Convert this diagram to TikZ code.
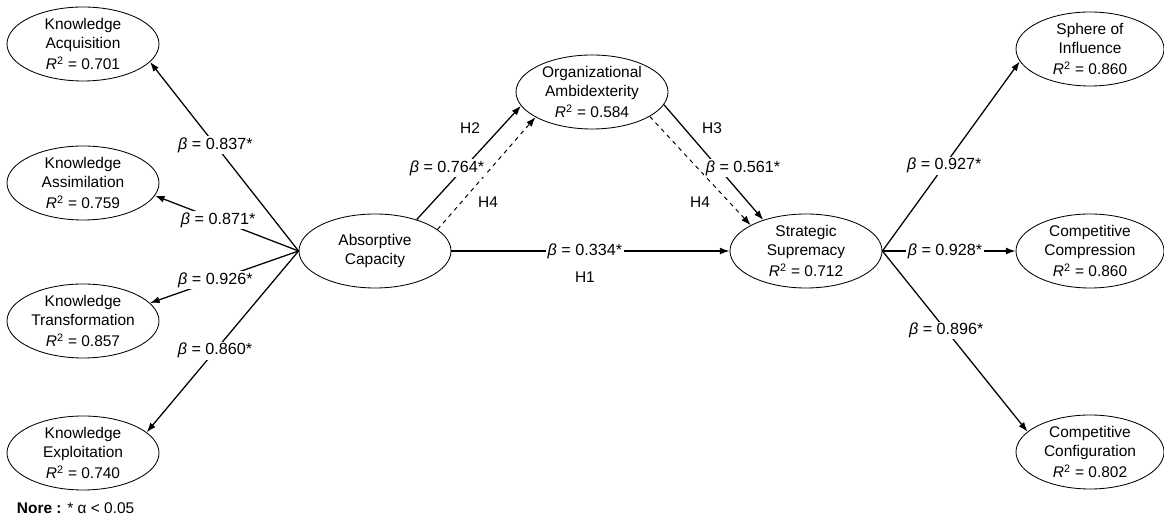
\documentclass[tikz,border=0pt]{standalone}
\usepackage{fontspec}
\setmainfont{Liberation Sans}
\usetikzlibrary{shapes.geometric,arrows.meta}

\tikzset{
  construct/.style={draw, ellipse, line width=0.6pt, align=center, inner sep=0pt,
    minimum width=3.8cm, minimum height=1.85cm, font=\fontsize{11}{13.5}\selectfont},
  scored/.style={construct, execute at begin node={\rule{0pt}{13.5pt}}},
  effect/.style={->, line width=0.9pt},
  mediation/.style={->, line width=0.7pt, dashed},
  coef/.style={fill=white, inner sep=1pt, font=\fontsize{11.5}{13.5}\selectfont},
  tag/.style={font=\fontsize{11}{13.5}\selectfont},
  >={Latex[length=2.4mm,width=1.7mm]}
}
\newcommand{\rsq}[1]{\textit{R}\textsuperscript{2} = #1}
\newcommand{\bet}[1]{\textit{β} = #1*}

\begin{document}
\begin{tikzpicture}
    \useasboundingbox (0,0) rectangle (29.1,13.025);

    % first order constructs
    \node[scored] (KAcq) at (2.075,11.925) {Knowledge \\ Acquisition \\[2pt] \rsq{0.701}};
    \node[scored] (KAss) at (2.075,8.45) {Knowledge \\ Assimilation \\[2pt] \rsq{0.759}};
    \node[scored] (KTra) at (2.075,5.0) {Knowledge \\ Transformation \\[2pt] \rsq{0.857}};
    \node[scored] (KExp) at (2.075,1.7) {Knowledge \\ Exploitation \\[2pt] \rsq{0.740}};
    \node[scored, minimum width=3.7cm] (SoI) at (27.25,11.8) {Sphere of \\ Influence \\[2pt] \rsq{0.860}};
    \node[scored, minimum width=3.7cm] (CCom) at (27.25,6.75) {Competitive \\ Compression \\[2pt] \rsq{0.860}};
    \node[scored, minimum width=3.7cm] (CCon) at (27.25,1.725) {Competitive \\ Configuration \\[2pt] \rsq{0.802}};

    % structural model
    \node[construct] (AC) at (9.375,6.75) {Absorptive \\ Capacity};
    \node[scored] (OA) at (14.8,10.725) {Organizational \\ Ambidexterity \\[2pt] \rsq{0.584}};
    \node[scored] (SS) at (20.15,6.75) {Strategic \\ Supremacy \\[2pt] \rsq{0.712}};

    \draw[effect] (AC.west) -- (KAcq.-15) node[coef, pos=0.56] {\bet{0.837}};
    \draw[effect] (AC.west) -- (KAss.-10) node[coef, pos=0.56] {\bet{0.871}};
    \draw[effect] (AC.west) -- (KTra.15) node[coef, pos=0.56] {\bet{0.926}};
    \draw[effect] (AC.west) -- (KExp.18) node[coef, pos=0.55] {\bet{0.860}};

    \draw[effect] (SS.east) -- (SoI.190) node[coef, pos=0.45] {\bet{0.927}};
    \draw[effect] (SS.east) -- (CCom.west) node[coef, pos=0.47] {\bet{0.928}};
    \draw[effect] (SS.east) -- (CCon.162) node[coef, pos=0.44] {\bet{0.896}};

    \draw[effect] (AC.east) -- (SS.west) node[coef, pos=0.48] {\bet{0.334}}
        node[tag, pos=0.48, yshift=-0.65cm] {H1};
    \draw[effect] (AC.37) -- (OA.191);
    \draw[mediation] (AC.19) -- (OA.204);
    \draw[effect] (OA.-10) -- (SS.144);
    \draw[mediation] (OA.-23) -- (SS.155);

    \node[coef] at (11.175,8.825) {\bet{0.764}};
    \node[tag] at (11.75,9.825) {H2};
    \node[tag] at (12.2,7.975) {H4};
    \node[tag] at (17.8,9.825) {H3};
    \node[coef] at (18.575,8.825) {\bet{0.561}};
    \node[tag] at (17.5,7.975) {H4};

    \node[tag, anchor=west] (note) at (0.3,0.325) {\textbf{Nore :} * α < 0.05};
\end{tikzpicture}
\end{document}
